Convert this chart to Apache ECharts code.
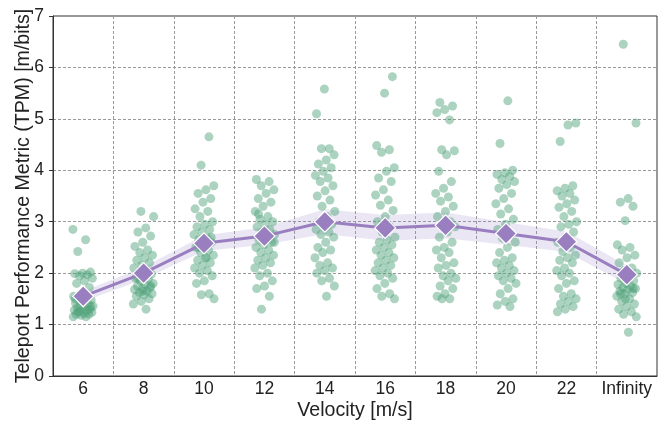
<!DOCTYPE html>
<html>
<head>
<meta charset="utf-8">
<script src="https://cdn.jsdelivr.net/npm/echarts@6/dist/echarts.min.js"></script>
<style>html,body{margin:0;padding:0;background:#fff}#c{width:660px;height:421px}</style>
</head>
<body>
<div id="c"></div>
<script>
const categories = ['6','8','10','12','14','16','18','20','22','Infinity'];
const means = [1.55, 2.0, 2.58, 2.72, 3.0, 2.88, 2.93, 2.77, 2.61, 1.97];
const ciHalf = [0.1, 0.12, 0.15, 0.17, 0.24, 0.25, 0.25, 0.22, 0.2, 0.18];
const yTicks = [0,1,2,3,4,5,6,7];

const v6 = [2.85,2.65,2.42,2.02,2.0,1.99,1.97,1.95,1.9,1.85,1.8,1.72,1.6,1.55,1.52,1.5,1.48,1.45,1.42,1.4,1.38,1.36,1.35,1.33,1.3,1.3,1.28,1.27,1.25,1.24,1.22,1.2,1.2,1.18,1.15,1.15,1.25,1.35,1.45,1.5];
const v8 = [3.2,3.1,2.88,2.8,2.72,2.6,2.52,2.45,2.4,2.35,2.3,2.25,2.2,2.15,2.1,2.05,2.0,1.98,1.95,1.9,1.88,1.85,1.8,1.78,1.75,1.72,1.7,1.68,1.65,1.62,1.6,1.58,1.55,1.5,1.45,1.4,1.3,1.9,1.75,1.65];
const v10 = [4.65,4.1,3.7,3.62,3.55,3.45,3.38,3.25,3.2,3.1,3.0,2.95,2.9,2.85,2.8,2.75,2.7,2.65,2.6,2.55,2.5,2.45,2.4,2.35,2.3,2.25,2.2,2.15,2.1,2.05,2.0,1.95,1.85,1.8,1.6,1.58,1.5,2.3,2.5,2.7];
const v12 = [3.82,3.78,3.7,3.62,3.55,3.45,3.38,3.3,3.2,3.1,3.05,3.0,2.95,2.9,2.85,2.8,2.75,2.7,2.65,2.6,2.55,2.5,2.45,2.4,2.35,2.3,2.25,2.2,2.15,2.1,2.0,1.95,1.85,1.75,1.7,1.55,1.3,2.6,2.8,3.15];
const v14 = [5.58,5.1,4.42,4.42,4.3,4.2,4.12,4.05,3.98,3.9,3.85,3.78,3.7,3.6,3.5,3.42,3.3,3.2,3.1,3.0,2.95,2.9,2.85,2.8,2.75,2.7,2.6,2.5,2.45,2.4,2.3,2.2,2.15,2.1,2.05,2.0,1.9,1.85,1.75,1.55];
const v16 = [5.82,5.5,4.48,4.4,4.35,4.05,3.98,3.85,3.78,3.62,3.52,3.42,3.32,3.22,3.1,3.0,2.9,2.8,2.7,2.65,2.6,2.55,2.5,2.45,2.4,2.35,2.3,2.25,2.2,2.15,2.1,2.05,2.0,1.95,1.9,1.8,1.7,1.6,1.55,1.5];
const v18 = [5.32,5.25,5.18,5.12,4.98,4.4,4.38,4.3,3.98,3.78,3.65,3.55,3.48,3.4,3.3,3.2,3.1,3.0,2.95,2.9,2.8,2.7,2.6,2.5,2.45,2.4,2.3,2.2,2.15,2.1,2.0,1.95,1.9,1.85,1.75,1.7,1.6,1.55,1.5,1.5];
const v20 = [5.35,4.52,4.0,3.95,3.92,3.88,3.82,3.78,3.72,3.65,3.55,3.45,3.35,3.25,3.15,3.05,2.95,2.85,2.75,2.68,2.6,2.5,2.4,2.3,2.25,2.2,2.15,2.1,2.05,2.0,1.95,1.9,1.85,1.8,1.7,1.6,1.5,1.45,1.38,1.35];
const v22 = [4.92,4.88,4.56,3.7,3.65,3.6,3.55,3.5,3.42,3.35,3.28,3.2,3.1,3.0,2.95,2.9,2.8,2.7,2.6,2.5,2.42,2.35,2.3,2.25,2.2,2.1,2.05,2.0,1.95,1.85,1.8,1.7,1.6,1.55,1.5,1.45,1.4,1.35,1.3,1.25];
const vInf = [6.45,4.92,3.45,3.38,3.3,3.02,2.55,2.5,2.45,2.35,2.3,2.2,2.1,2.05,2.0,1.95,1.9,1.85,1.8,1.78,1.75,1.72,1.7,1.68,1.65,1.62,1.6,1.55,1.5,1.45,1.4,1.35,1.3,1.25,1.2,1.15,0.85,1.6,1.7,1.5];

const groups = [v6,v8,v10,v12,v14,v16,v18,v20,v22,vInf];

// deterministic jitter (low-discrepancy sequence), in category units
const stripPts = [];
groups.forEach((g, k) => {
  g.forEach((v, i) => {
    const f = ((i * 0.6180339887 + k * 0.37) % 1) - 0.5;
    stripPts.push([k + f * 0.34, v]);
  });
});

const lower = means.map((m, i) => +(m - ciHalf[i]).toFixed(3));
const spanBand = ciHalf.map(c => +(2 * c).toFixed(3));

const FONT = '"Liberation Sans", Arial, sans-serif';
const chart = echarts.init(document.getElementById('c'));
chart.setOption({
  animation: false,
  backgroundColor: '#fff',
  grid: { left: 53, right: 3, top: 16, bottom: 45, show: true, borderColor: '#333', borderWidth: 1,
          backgroundColor: 'transparent', containLabel: false, outerBoundsMode: 'none' },
  xAxis: [{
    type: 'category', data: categories, boundaryGap: true,
    name: 'Velocity [m/s]', nameLocation: 'middle', nameGap: 25, nameMoveOverlap: false,
    nameTextStyle: { fontFamily: FONT, fontSize: 19.6, color: '#222' },
    axisLine: { lineStyle: { color: '#333', width: 1 } },
    axisTick: { alignWithLabel: true, length: 4, lineStyle: { color: '#333' } },
    axisLabel: { fontFamily: FONT, fontSize: 17.5, color: '#222', margin: 4, interval: 0, hideOverlap: false },
    splitLine: { show: true, interval: 0, lineStyle: { color: '#999', type: [3, 2], width: 1 } }
  }, {
    type: 'value', min: -0.5, max: 9.5, show: false
  }],
  yAxis: {
    type: 'value', min: yTicks[0], max: yTicks[yTicks.length - 1], interval: 1,
    name: 'Teleport Performance Metric (TPM) [m/bits]', nameLocation: 'middle', nameGap: 19, nameMoveOverlap: false,
    nameTextStyle: { fontFamily: FONT, fontSize: 19.6, color: '#222' },
    axisLine: { show: true, onZero: false, lineStyle: { color: '#333', width: 1 } },
    axisTick: { show: true, length: 4, lineStyle: { color: '#333' } },
    axisLabel: { fontFamily: FONT, fontSize: 17.5, color: '#222', margin: 9 },
    splitLine: { show: true, lineStyle: { color: '#999', type: [3, 2], width: 1 } }
  },
  series: [
    { type: 'line', data: lower, stack: 'ci', symbol: 'none', lineStyle: { opacity: 0 }, silent: true, z: 1 },
    { type: 'line', data: spanBand, stack: 'ci', symbol: 'none', lineStyle: { opacity: 0 },
      areaStyle: { color: 'rgba(150,125,195,0.28)' }, silent: true, z: 1 },
    { type: 'scatter', xAxisIndex: 1, data: stripPts, symbolSize: 9,
      itemStyle: { color: '#4fa27a', opacity: 0.47 }, z: 2 },
    { type: 'line', data: means, symbol: 'diamond', symbolSize: 21,
      lineStyle: { color: '#9a7fc0', width: 3 },
      itemStyle: { color: '#9a7fc0', borderColor: '#fff', borderWidth: 1.2 }, z: 3 }
  ]
});
</script>
</body>
</html>
